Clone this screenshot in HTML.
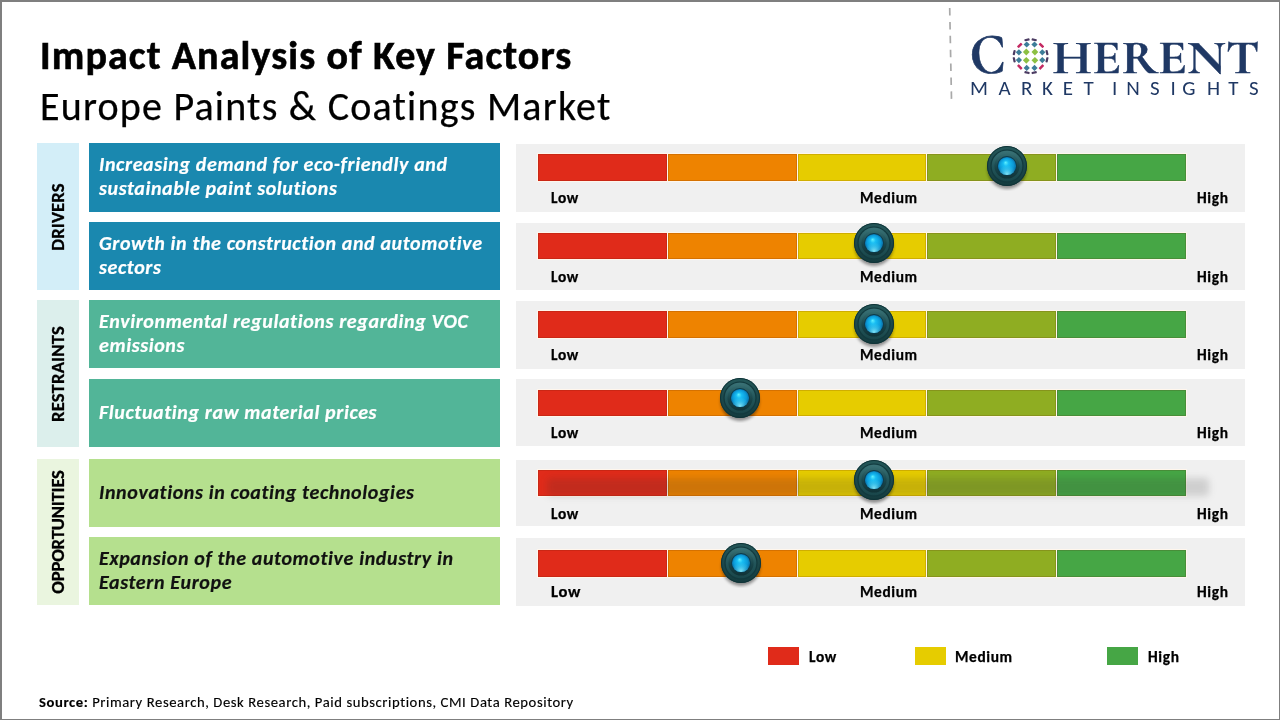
<!DOCTYPE html>
<html><head><meta charset="utf-8">
<style>
*{margin:0;padding:0;box-sizing:border-box}
html,body{width:1280px;height:720px;overflow:hidden;background:#fff}
body{position:relative;font-family:Carlito,"Liberation Sans",sans-serif;color:#000;font-variant-ligatures:none;font-kerning:normal}
.frame{position:absolute;left:0;top:0;width:1280px;height:720px;border-top:2px solid #7f7f7f;border-left:2px solid #7f7f7f;border-right:1px solid #7f7f7f;border-bottom:1px solid #7f7f7f;z-index:50;pointer-events:none}
.abs{position:absolute;white-space:nowrap}
.t1{left:40px;top:31px;font-size:40px;letter-spacing:1.1px;-webkit-text-stroke:0.6px #000;font-weight:700;line-height:50px}
.t2{left:40px;top:82px;font-size:40px;letter-spacing:1.22px;-webkit-text-stroke:0.25px #000;font-weight:400;line-height:50px}
.cat{position:absolute;left:37px;width:42px}
.cat span{position:absolute;left:50%;top:50%;transform:translate(-50%,-50%) rotate(-90deg);font-weight:700;font-size:18.67px;white-space:nowrap;line-height:20px;-webkit-text-stroke:0.3px #000;letter-spacing:0.15px}
.fac{position:absolute;left:89px;width:411px;display:flex;white-space:nowrap;align-items:center;padding-left:10px;padding-bottom:3px;font-weight:700;font-style:italic;font-size:20px;letter-spacing:0.62px;line-height:24px;color:#fff;-webkit-text-stroke:0.2px currentColor}
.pan{position:absolute;left:516px;width:729px;background:#f0f0f0}
.bar{position:absolute;left:537px;width:650px;height:29px;display:flex}
.bar i{display:block;flex:1;height:100%;border:1px solid #fff6ec;box-shadow:inset 0 0 0 1px rgba(90,20,0,.16)}
.bar i+i{border-left:none}
.lab{position:absolute;font-weight:700;-webkit-text-stroke:0.25px #000;font-size:15.4px;letter-spacing:0.62px;line-height:18px;margin-top:1.6px}
.knob{position:absolute;width:50px;height:50px}
.leg{position:absolute;top:647px;width:31px;height:18px}
.legt{position:absolute;top:646.6px;font-weight:700;-webkit-text-stroke:0.25px #000;font-size:15.4px;letter-spacing:0.62px;line-height:20px}
.src{left:39px;top:691.6px;-webkit-text-stroke:0.15px #000;font-size:14.67px;letter-spacing:0.58px;line-height:20px}
</style></head><body>
<div class="frame"></div>
<svg width="0" height="0" style="position:absolute">
<defs>
<filter id="kblur" x="-50%" y="-50%" width="200%" height="200%"><feGaussianBlur stdDeviation="1.8"/></filter>
<linearGradient id="kout" x1="0" y1="0" x2="0" y2="1"><stop offset="0" stop-color="#245759"/><stop offset="1" stop-color="#143b3e"/></linearGradient>
<linearGradient id="kring" x1="0" y1="0" x2="0" y2="1"><stop offset="0" stop-color="#3a7276"/><stop offset="0.5" stop-color="#22555a"/><stop offset="1" stop-color="#19464a"/></linearGradient>
<linearGradient id="ksock" x1="0" y1="0" x2="0" y2="1"><stop offset="0" stop-color="#346c70"/><stop offset="0.55" stop-color="#19454a"/><stop offset="1" stop-color="#103236"/></linearGradient>
<radialGradient id="kblue" cx="0.5" cy="0.5" r="0.5" fx="0.42" fy="0.3"><stop offset="0" stop-color="#5ff0ff"/><stop offset="0.3" stop-color="#18bdf3"/><stop offset="0.75" stop-color="#0b9ad8"/><stop offset="1" stop-color="#0a70a6"/></radialGradient>
<radialGradient id="krim" cx="0.5" cy="0.95" r="0.5"><stop offset="0" stop-color="#8ef0ff" stop-opacity="0.9"/><stop offset="0.6" stop-color="#5fdcf5" stop-opacity="0.35"/><stop offset="1" stop-color="#5fdcf5" stop-opacity="0"/></radialGradient>
</defs></svg>


<div class="abs t1">Impact Analysis of Key Factors</div>
<div class="abs t2">Europe Paints &amp; Coatings Market</div>

<!-- categories -->
<div class="cat" style="top:143px;height:147px;background:#d3eef8"><span>DRIVERS</span></div>
<div class="cat" style="top:300px;height:147px;background:#dcefec"><span>RESTRAINTS</span></div>
<div class="cat" style="top:459px;height:146px;background:#eaf5df"><span style="letter-spacing:-0.2px">OPPORTUNITIES</span></div>

<!-- factor boxes -->
<div class="fac" style="top:143px;height:69px;background:#1a88af">Increasing demand for eco-friendly and<br>sustainable paint solutions</div>
<div class="fac" style="top:222px;height:68px;background:#1a88af">Growth in the construction and automotive<br>sectors</div>
<div class="fac" style="top:300px;height:68px;background:#52b598">Environmental regulations regarding VOC<br>emissions</div>
<div class="fac" style="top:379px;height:68px;background:#52b598">Fluctuating raw material prices</div>
<div class="fac" style="top:459px;height:68px;background:#b5e08e;color:#111">Innovations in coating technologies</div>
<div class="fac" style="top:537px;height:68px;background:#b5e08e;color:#111">Expansion of the automotive industry in<br>Eastern Europe</div>

<!-- panels -->
<div class="pan" style="top:144px;height:68px"></div>
<div class="pan" style="top:223px;height:67px"></div>
<div class="pan" style="top:301px;height:68px"></div>
<div class="pan" style="top:379px;height:67px"></div>
<div class="pan" style="top:460px;height:66px"></div>
<div class="pan" style="top:538px;height:68px"></div>

<!-- bars -->
<div class="bar" style="top:153px"><i style="background:#e02b1a"></i><i style="background:#ee8300"></i><i style="background:#e6cc00"></i><i style="background:#8fad22"></i><i style="background:#46a645"></i></div>
<div class="bar" style="top:232px;height:28px"><i style="background:#e02b1a"></i><i style="background:#ee8300"></i><i style="background:#e6cc00"></i><i style="background:#8fad22"></i><i style="background:#46a645"></i></div>
<div class="bar" style="top:310px"><i style="background:#e02b1a"></i><i style="background:#ee8300"></i><i style="background:#e6cc00"></i><i style="background:#8fad22"></i><i style="background:#46a645"></i></div>
<div class="bar" style="top:389px;height:28px"><i style="background:#e02b1a"></i><i style="background:#ee8300"></i><i style="background:#e6cc00"></i><i style="background:#8fad22"></i><i style="background:#46a645"></i></div>
<div class="bar" style="top:469px;height:28px"><i style="background:#e02b1a"></i><i style="background:#ee8300"></i><i style="background:#e6cc00"></i><i style="background:#8fad22"></i><i style="background:#46a645"></i></div>
<div class="bar" style="top:549px"><i style="background:#e02b1a"></i><i style="background:#ee8300"></i><i style="background:#e6cc00"></i><i style="background:#8fad22"></i><i style="background:#46a645"></i></div>

<div style="position:absolute;left:547px;top:478px;width:662px;height:18px;background:rgba(50,50,50,.17);filter:blur(3.5px);border-radius:4px"></div>

<!-- labels -->
<div class="lab" style="left:551px;top:187px">Low</div><div class="lab" style="left:860px;top:187px">Medium</div><div class="lab" style="left:1197px;top:187px">High</div>
<div class="lab" style="left:551px;top:266px">Low</div><div class="lab" style="left:860px;top:266px">Medium</div><div class="lab" style="left:1197px;top:266px">High</div>
<div class="lab" style="left:551px;top:344px">Low</div><div class="lab" style="left:860px;top:344px">Medium</div><div class="lab" style="left:1197px;top:344px">High</div>
<div class="lab" style="left:551px;top:422px">Low</div><div class="lab" style="left:860px;top:422px">Medium</div><div class="lab" style="left:1197px;top:422px">High</div>
<div class="lab" style="left:551px;top:503px">Low</div><div class="lab" style="left:860px;top:503px">Medium</div><div class="lab" style="left:1197px;top:503px">High</div>
<div class="lab" style="left:551px;top:580.4px;font-size:16.6px;letter-spacing:0.7px">Low</div><div class="lab" style="left:860px;top:581px">Medium</div><div class="lab" style="left:1197px;top:581px">High</div>

<!-- knobs -->
<svg class="knob" style="left:982.0px;top:140.5px" viewBox="-25 -25 50 50"><ellipse cx="0" cy="3.5" rx="19.5" ry="19.5" fill="#000" opacity="0.4" filter="url(#kblur)"/><circle r="20" fill="url(#kout)"/><circle r="19.5" fill="none" stroke="#0f3337" stroke-width="1"/><circle r="16" fill="none" stroke="#123a3f" stroke-width="1.2"/><circle r="15.2" fill="url(#kring)"/><circle r="12.6" fill="url(#ksock)"/><circle r="9.9" fill="#0c3a4a"/><circle r="9.1" fill="url(#kblue)"/><circle r="9.1" fill="url(#krim)"/></svg>
<svg class="knob" style="left:849.4px;top:217.7px" viewBox="-25 -25 50 50"><ellipse cx="0" cy="3.5" rx="19.5" ry="19.5" fill="#000" opacity="0.4" filter="url(#kblur)"/><circle r="20" fill="url(#kout)"/><circle r="19.5" fill="none" stroke="#0f3337" stroke-width="1"/><circle r="16" fill="none" stroke="#123a3f" stroke-width="1.2"/><circle r="15.2" fill="url(#kring)"/><circle r="12.6" fill="url(#ksock)"/><circle r="9.9" fill="#0c3a4a"/><circle r="9.1" fill="url(#kblue)"/><circle r="9.1" fill="url(#krim)"/></svg>
<svg class="knob" style="left:849.2px;top:299.2px" viewBox="-25 -25 50 50"><ellipse cx="0" cy="3.5" rx="19.5" ry="19.5" fill="#000" opacity="0.4" filter="url(#kblur)"/><circle r="20" fill="url(#kout)"/><circle r="19.5" fill="none" stroke="#0f3337" stroke-width="1"/><circle r="16" fill="none" stroke="#123a3f" stroke-width="1.2"/><circle r="15.2" fill="url(#kring)"/><circle r="12.6" fill="url(#ksock)"/><circle r="9.9" fill="#0c3a4a"/><circle r="9.1" fill="url(#kblue)"/><circle r="9.1" fill="url(#krim)"/></svg>
<svg class="knob" style="left:715.2px;top:373.4px" viewBox="-25 -25 50 50"><ellipse cx="0" cy="3.5" rx="19.5" ry="19.5" fill="#000" opacity="0.4" filter="url(#kblur)"/><circle r="20" fill="url(#kout)"/><circle r="19.5" fill="none" stroke="#0f3337" stroke-width="1"/><circle r="16" fill="none" stroke="#123a3f" stroke-width="1.2"/><circle r="15.2" fill="url(#kring)"/><circle r="12.6" fill="url(#ksock)"/><circle r="9.9" fill="#0c3a4a"/><circle r="9.1" fill="url(#kblue)"/><circle r="9.1" fill="url(#krim)"/></svg>
<svg class="knob" style="left:849.3px;top:455.4px" viewBox="-25 -25 50 50"><ellipse cx="0" cy="3.5" rx="19.5" ry="19.5" fill="#000" opacity="0.4" filter="url(#kblur)"/><circle r="20" fill="url(#kout)"/><circle r="19.5" fill="none" stroke="#0f3337" stroke-width="1"/><circle r="16" fill="none" stroke="#123a3f" stroke-width="1.2"/><circle r="15.2" fill="url(#kring)"/><circle r="12.6" fill="url(#ksock)"/><circle r="9.9" fill="#0c3a4a"/><circle r="9.1" fill="url(#kblue)"/><circle r="9.1" fill="url(#krim)"/></svg>
<svg class="knob" style="left:715.7px;top:537.8px" viewBox="-25 -25 50 50"><ellipse cx="0" cy="3.5" rx="19.5" ry="19.5" fill="#000" opacity="0.4" filter="url(#kblur)"/><circle r="20" fill="url(#kout)"/><circle r="19.5" fill="none" stroke="#0f3337" stroke-width="1"/><circle r="16" fill="none" stroke="#123a3f" stroke-width="1.2"/><circle r="15.2" fill="url(#kring)"/><circle r="12.6" fill="url(#ksock)"/><circle r="9.9" fill="#0c3a4a"/><circle r="9.1" fill="url(#kblue)"/><circle r="9.1" fill="url(#krim)"/></svg>

<!-- legend -->
<div class="leg" style="left:768px;background:#e02b1a"></div><div class="legt" style="left:809px">Low</div>
<div class="leg" style="left:915px;background:#e6cc00"></div><div class="legt" style="left:955px">Medium</div>
<div class="leg" style="left:1107px;background:#46a645"></div><div class="legt" style="left:1148px">High</div>

<div class="abs src"><b>Source:</b> Primary Research, Desk Research, Paid subscriptions, CMI Data Repository</div>

<!-- logo -->
<svg style="position:absolute;left:940px;top:0" width="340" height="110" viewBox="0 0 340 110">
<line x1="9.7" y1="8" x2="11.5" y2="99.5" stroke="#a9a9a9" stroke-width="1.7" stroke-dasharray="7.5 6.4"/>
<text x="29.5" y="72.8" font-family="'Cormorant SC','Cormorant','Liberation Serif',serif" font-weight="700" font-size="59" fill="#1f3864" stroke="#1f3864" stroke-width="0.7" textLength="36" lengthAdjust="spacingAndGlyphs">C</text>
<g>
<rect x="-2.4" y="-2.4" width="4.8" height="4.8" fill="#8cc043" transform="translate(86.3 52.0) rotate(45)"/>
<rect x="-2.4" y="-2.4" width="4.8" height="4.8" fill="#8cc043" transform="translate(94.9 52.0) rotate(45)"/>
<rect x="-2.4" y="-2.4" width="4.8" height="4.8" fill="#8cc043" transform="translate(86.3 60.3) rotate(45)"/>
<rect x="-2.4" y="-2.4" width="4.8" height="4.8" fill="#8cc043" transform="translate(94.9 60.3) rotate(45)"/>
<rect x="-2.2" y="-2.2" width="4.4" height="4.4" fill="#3d7d99" transform="translate(102.3 52.3) rotate(45)"/>
<rect x="-2.2" y="-2.2" width="4.4" height="4.4" fill="#3d7d99" transform="translate(102.3 60.1) rotate(45)"/>
<rect x="-2.2" y="-2.2" width="4.4" height="4.4" fill="#3d7d99" transform="translate(94.5 67.9) rotate(45)"/>
<rect x="-2.2" y="-2.2" width="4.4" height="4.4" fill="#3d7d99" transform="translate(86.7 67.9) rotate(45)"/>
<rect x="-2.2" y="-2.2" width="4.4" height="4.4" fill="#3d7d99" transform="translate(78.9 60.1) rotate(45)"/>
<rect x="-2.2" y="-2.2" width="4.4" height="4.4" fill="#3d7d99" transform="translate(78.9 52.3) rotate(45)"/>
<rect x="-2.2" y="-2.2" width="4.4" height="4.4" fill="#3d7d99" transform="translate(86.7 44.5) rotate(45)"/>
<rect x="-2.2" y="-2.2" width="4.4" height="4.4" fill="#3d7d99" transform="translate(94.5 44.5) rotate(45)"/>
<rect x="-2.6" y="-1.1" width="5.2" height="2.2" rx="0.6" fill="#4b3b62" transform="translate(107.0 52.6) rotate(77.5)"/>
<rect x="-2.6" y="-1.1" width="5.2" height="2.2" rx="0.6" fill="#4b3b62" transform="translate(107.0 59.8) rotate(102.5)"/>
<rect x="-2.6" y="-1.1" width="5.2" height="2.2" rx="0.6" fill="#4b3b62" transform="translate(94.2 72.6) rotate(167.5)"/>
<rect x="-2.6" y="-1.1" width="5.2" height="2.2" rx="0.6" fill="#4b3b62" transform="translate(87.0 72.6) rotate(192.5)"/>
<rect x="-2.6" y="-1.1" width="5.2" height="2.2" rx="0.6" fill="#4b3b62" transform="translate(74.2 59.8) rotate(257.5)"/>
<rect x="-2.6" y="-1.1" width="5.2" height="2.2" rx="0.6" fill="#4b3b62" transform="translate(74.2 52.6) rotate(282.5)"/>
<rect x="-2.6" y="-1.1" width="5.2" height="2.2" rx="0.6" fill="#4b3b62" transform="translate(87.0 39.8) rotate(347.5)"/>
<rect x="-2.6" y="-1.1" width="5.2" height="2.2" rx="0.6" fill="#4b3b62" transform="translate(94.2 39.8) rotate(372.5)"/>
<rect x="-2.8" y="-1.3" width="5.6" height="2.6" rx="0.6" fill="#c42a62" transform="translate(101.4 67.0) rotate(135.0)"/>
<rect x="-2.8" y="-1.3" width="5.6" height="2.6" rx="0.6" fill="#c42a62" transform="translate(79.8 67.0) rotate(225.0)"/>
<rect x="-2.8" y="-1.3" width="5.6" height="2.6" rx="0.6" fill="#c42a62" transform="translate(79.8 45.4) rotate(315.0)"/>
<rect x="-2.8" y="-1.3" width="5.6" height="2.6" rx="0.6" fill="#c42a62" transform="translate(101.4 45.4) rotate(405.0)"/>
</g>
<text x="112" y="72.5" font-family="'Cormorant SC','Cormorant','Liberation Serif',serif" font-weight="700" font-size="47" fill="#1f3864" stroke="#1f3864" stroke-width="0.4" textLength="207.5" lengthAdjust="spacingAndGlyphs">HERENT</text>
<text x="30.1 58.5 80.9 102.0 122.8 143.4 165 172.0 186.3 210.0 230.4 242.3 267.0 288.2 309.1" y="94.7" font-family="Carlito,'Liberation Sans',sans-serif" font-size="21" fill="#1f3864">MARKET INSIGHTS</text>
</svg>
</body></html>
